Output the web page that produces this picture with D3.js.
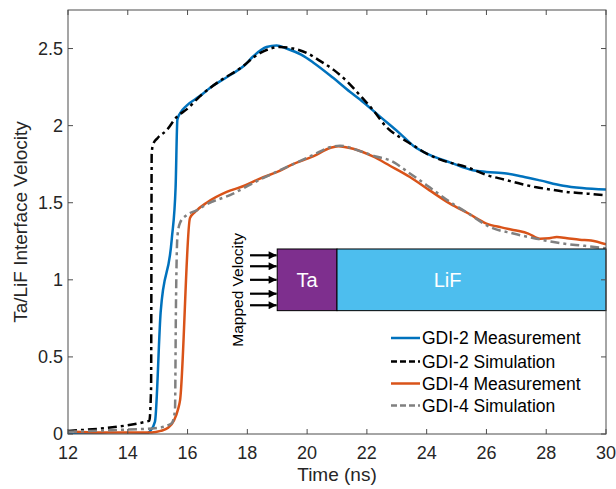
<!DOCTYPE html>
<html><head><meta charset="utf-8">
<script src="https://cdn.jsdelivr.net/npm/d3@7"></script>
<style>
html,body{margin:0;padding:0;background:#fff;}
svg{display:block;font-family:"Liberation Sans",Arial,Helvetica,sans-serif;}
</style></head>
<body>
<svg id="chart" width="616" height="489"></svg>
<script>
// ---- data ----
const gdi2MeasT = [12, 13.0, 13.5, 14.2, 14.6, 14.75, 14.91, 15.1, 15.47, 15.6, 15.66, 15.75, 15.97, 16.4, 16.86, 17.19, 17.53, 17.9, 18.2, 18.64, 18.98, 19.31, 19.8, 20.2, 20.87, 21.43, 21.77, 22.43, 23.1, 23.55, 24.1, 24.8, 25.55, 26.0, 26.67, 27.2, 27.79, 28.57, 29.2, 30];
const gdi2MeasV = [0.0, 0.0, -0.01, -0.005, 0.0, 0.02, 0.08, 0.79, 1.26, 1.6, 2.04, 2.08, 2.13, 2.19, 2.26, 2.30, 2.34, 2.39, 2.45, 2.51, 2.52, 2.50, 2.46, 2.41, 2.31, 2.22, 2.17, 2.06, 1.95, 1.87, 1.81, 1.76, 1.71, 1.70, 1.69, 1.67, 1.645, 1.61, 1.595, 1.585];

const gdi2SimT = [12, 14.72, 14.78, 14.8, 14.85, 15.0, 15.3, 15.63, 16.0, 16.41, 17.08, 17.75, 18.42, 19.09, 19.53, 20.0, 20.43, 20.9, 21.32, 21.8, 22.21, 22.66, 23.1, 23.55, 24.0, 24.6, 25.34, 26.0, 26.6, 27.2, 27.67, 28.0, 28.68, 29.3, 30];
const gdi2SimV = [0.02, 0.085, 0.3, 1.82, 1.88, 1.92, 1.97, 2.055, 2.11, 2.19, 2.29, 2.37, 2.47, 2.51, 2.50, 2.47, 2.42, 2.36, 2.29, 2.19, 2.10, 1.99, 1.925, 1.872, 1.818, 1.77, 1.731, 1.68, 1.65, 1.62, 1.60, 1.59, 1.57, 1.56, 1.548];

const gdi4MeasT = [12.2, 13.0, 14.0, 14.8, 15.1, 15.35, 15.55, 15.69, 15.75, 16.08, 16.25, 16.64, 17.31, 17.9, 18.42, 19.0, 19.53, 20.2, 20.76, 21.04, 21.54, 22.2, 22.77, 23.44, 24.1, 24.78, 25.4, 26.0, 26.5, 27.0, 27.4, 27.79, 28.1, 28.35, 28.7, 29.12, 29.5, 30];
const gdi4MeasV = [0.015, 0.01, 0.01, 0.01, 0.02, 0.04, 0.09, 0.166, 0.22, 1.40, 1.44, 1.50, 1.57, 1.61, 1.656, 1.70, 1.75, 1.80, 1.855, 1.867, 1.85, 1.80, 1.74, 1.667, 1.58, 1.494, 1.43, 1.365, 1.34, 1.32, 1.30, 1.267, 1.27, 1.278, 1.27, 1.26, 1.255, 1.23];

const gdi4SimT = [12, 13.5, 15.0, 15.47, 15.58, 15.61, 15.66, 15.75, 15.97, 16.3, 16.64, 17.42, 18.42, 19.53, 20.2, 20.76, 21.1, 21.77, 22.3, 22.77, 23.44, 24.1, 24.78, 25.4, 26.11, 26.9, 27.67, 28.1, 28.57, 29.2, 30];
const gdi4SimV = [0.015, 0.025, 0.04, 0.07, 0.155, 0.8, 1.28, 1.37, 1.42, 1.45, 1.49, 1.55, 1.65, 1.75, 1.81, 1.86, 1.87, 1.835, 1.80, 1.775, 1.69, 1.60, 1.505, 1.43, 1.343, 1.30, 1.267, 1.25, 1.235, 1.222, 1.205];

const xTicks = [12, 14, 16, 18, 20, 22, 24, 26, 28, 30];
const yTicks = [0, 0.5, 1, 1.5, 2, 2.5];
const yTickLabels = ["0", "0.5", "1", "1.5", "2", "2.5"];
const seriesNames = ["GDI-2 Measurement", "GDI-2 Simulation", "GDI-4 Measurement", "GDI-4 Simulation"];

// inset annotation (in data units)
const taSpan = [19, 21], lifSpan = [21, 30], layerV = [0.8, 1.2];
const arrowV = [1.159, 1.088, 1.0, 0.91, 0.835];
const arrowT = [18.09, 18.98];

// ---- layout ----
const W = 616, H = 489;
const m = {left: 68, right: 10, top: 10, bottom: 55};
const svg = d3.select("#chart");
const x = d3.scaleLinear().domain([12, 30]).range([m.left, W - m.right]);
const y = d3.scaleLinear().domain([0, 2.75]).range([H - m.bottom, m.top]);
const textCol = "#262626", axCol = "#4d4d4d";

const defs = svg.append("defs");
defs.append("clipPath").attr("id", "clip").append("rect")
  .attr("x", m.left).attr("y", m.top).attr("width", W - m.left - m.right).attr("height", H - m.top - m.bottom);
defs.append("marker").attr("id", "arr").attr("viewBox", "0 0 10 10").attr("refX", 10).attr("refY", 5)
  .attr("markerWidth", 10).attr("markerHeight", 8).attr("markerUnits", "userSpaceOnUse").attr("orient", "auto")
  .append("path").attr("d", "M0,0L10,5L0,10Z").attr("fill", "#000");

// lines
const series = [
  {t: gdi2MeasT, v: gdi2MeasV, color: "#0072BD", dash: null},
  {t: gdi2SimT, v: gdi2SimV, color: "#000000", dash: "9,4,3,4"},
  {t: gdi4MeasT, v: gdi4MeasV, color: "#D95319", dash: null},
  {t: gdi4SimT, v: gdi4SimV, color: "#808080", dash: "9,4,3,4"}
];
const line = d3.line().x(d => x(d[0])).y(d => y(d[1])).curve(d3.curveMonotoneX);
const gLines = svg.append("g").attr("clip-path", "url(#clip)");
series.forEach(s => {
  gLines.append("path").datum(d3.zip(s.t, s.v))
    .attr("d", line).attr("fill", "none").attr("stroke", s.color)
    .attr("stroke-width", 2.5).attr("stroke-dasharray", s.dash)
    .attr("stroke-linejoin", "round");
});

// inset
const gIn = svg.append("g");
gIn.append("rect").attr("x", x(taSpan[0])).attr("y", y(layerV[1]))
  .attr("width", x(taSpan[1]) - x(taSpan[0])).attr("height", y(layerV[0]) - y(layerV[1]))
  .attr("fill", "#7E2F8E").attr("stroke", "#000").attr("stroke-width", 1);
gIn.append("rect").attr("x", x(lifSpan[0])).attr("y", y(layerV[1]))
  .attr("width", x(lifSpan[1]) - x(lifSpan[0])).attr("height", y(layerV[0]) - y(layerV[1]))
  .attr("fill", "#4DBEEE").attr("stroke", "#000").attr("stroke-width", 1);
gIn.append("text").attr("x", x((taSpan[0] + taSpan[1]) / 2)).attr("y", y(1.0)).attr("dy", "0.36em")
  .attr("text-anchor", "middle").attr("fill", "#fff").attr("font-size", 20).text("Ta");
gIn.append("text").attr("x", x(24.7)).attr("y", y(1.0)).attr("dy", "0.36em")
  .attr("text-anchor", "middle").attr("fill", "#fff").attr("font-size", 20).text("LiF");
arrowV.forEach(v => {
  gIn.append("line").attr("x1", x(arrowT[0])).attr("x2", x(arrowT[1]))
    .attr("y1", y(v)).attr("y2", y(v)).attr("stroke", "#000").attr("stroke-width", 2.2)
    .attr("marker-end", "url(#arr)");
});
gIn.append("text").attr("transform", `translate(${x(17.85)},${y(0.935)}) rotate(-90)`)
  .attr("text-anchor", "middle").attr("fill", "#000").attr("font-size", 15.5).text("Mapped Velocity");

// axes box
const box = svg.append("g");
box.append("rect").attr("x", m.left).attr("y", m.top).attr("width", W - m.left - m.right)
  .attr("height", H - m.top - m.bottom).attr("fill", "none").attr("stroke", axCol).attr("stroke-width", 1);
const tl = 5;
xTicks.forEach(t => {
  box.append("line").attr("x1", x(t)).attr("x2", x(t)).attr("y1", y(0)).attr("y2", y(0) - tl).attr("stroke", axCol);
  box.append("line").attr("x1", x(t)).attr("x2", x(t)).attr("y1", m.top).attr("y2", m.top + tl).attr("stroke", axCol);
  box.append("text").attr("x", x(t)).attr("y", y(0) + 25).attr("text-anchor", "middle")
    .attr("fill", textCol).attr("font-size", 18).text(t);
});
yTicks.forEach((v, i) => {
  box.append("line").attr("x1", m.left).attr("x2", m.left + tl).attr("y1", y(v)).attr("y2", y(v)).attr("stroke", axCol);
  box.append("line").attr("x1", W - m.right).attr("x2", W - m.right - tl).attr("y1", y(v)).attr("y2", y(v)).attr("stroke", axCol);
  box.append("text").attr("x", m.left - 5).attr("y", y(v)).attr("dy", "0.36em").attr("text-anchor", "end")
    .attr("fill", textCol).attr("font-size", 18).text(yTickLabels[i]);
});
svg.append("text").attr("x", (m.left + W - m.right) / 2).attr("y", 481).attr("text-anchor", "middle")
  .attr("fill", textCol).attr("font-size", 19).text("Time (ns)");
svg.append("text").attr("transform", `translate(27,${(m.top + H - m.bottom) / 2}) rotate(-90)`)
  .attr("text-anchor", "middle").attr("fill", textCol).attr("font-size", 19).text("Ta/LiF Interface Velocity");

// legend
const legY = [338, 361.5, 383.5, 405.5];
const leg = svg.append("g");
series.forEach((s, i) => {
  leg.append("line").attr("x1", 391).attr("x2", 420).attr("y1", legY[i]).attr("y2", legY[i])
    .attr("stroke", s.color).attr("stroke-width", 2.5).attr("stroke-dasharray", s.dash ? "6,3" : null);
  leg.append("text").attr("x", 422).attr("y", legY[i]).attr("dy", "0.36em")
    .attr("fill", "#000").attr("font-size", 17.5).text(seriesNames[i]);
});
</script>
</body></html>
